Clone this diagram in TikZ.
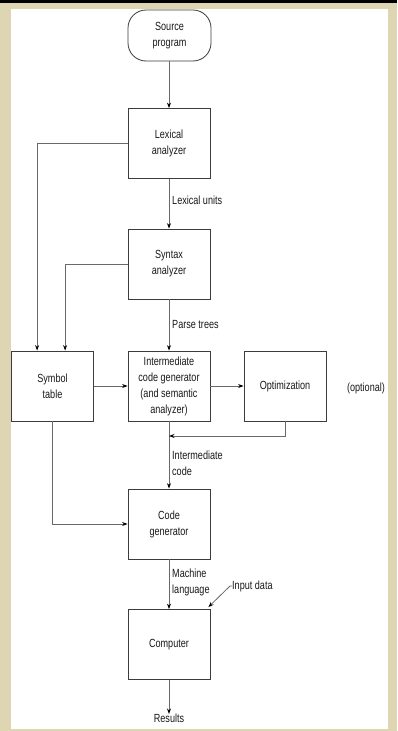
\documentclass[tikz,border=0pt]{standalone}
\usepackage{fontspec}
\setmainfont{Liberation Sans}[FakeStretch=0.77]
\usetikzlibrary{arrows.meta,positioning}
\definecolor{parch}{RGB}{222,213,178}
\definecolor{edge}{RGB}{60,60,60}
\definecolor{wire}{RGB}{105,105,105}
\definecolor{ink}{RGB}{25,25,25}
\tikzset{
  stagebox/.style={draw=edge, line width=0.8pt, fill=white, minimum width=82pt,
    minimum height=70pt, inner sep=0pt, align=center, text=ink,
    font=\fontsize{11.8}{16}\selectfont},
  startbox/.style={stagebox, rounded corners=18pt, minimum width=83pt, minimum height=51pt},
  lbl/.style={inner sep=0pt, align=left, text=ink, font=\fontsize{11.8}{16}\selectfont},
  arr/.style={draw=wire, line width=0.8pt, -{Stealth[length=5.5pt,width=4pt,color=black]}}
}
\begin{document}
\begin{tikzpicture}[x=1pt,y=-1pt]
  % page: parchment surround, black top rule, white sheet
  \fill[parch] (0,0) rectangle (397,731);
  \fill[black] (0,0) rectangle (397,3);
  \fill[white] (11,9) rectangle (388,729);
  \useasboundingbox (0,0) rectangle (397,731);

  % stages
  \node[startbox] (src)  at (169.5,35.5) {Source\\program};
  \node[stagebox] (lex)  at (169,143.5)  {Lexical\\analyzer};
  \node[stagebox] (syn)  at (169,264)    {Syntax\\analyzer};
  \node[stagebox] (sym)  at (52.5,386)   {Symbol\\table};
  \node[stagebox] (icg)  at (169,386)    {Intermediate\\code generator\\(and semantic\\analyzer)};
  \node[stagebox] (opt)  at (285,386)    {Optimization};
  \node[stagebox] (cg)   at (169,524)    {Code\\generator};
  \node[stagebox] (comp) at (169,644.5)  {Computer};

  % labels
  \node[lbl, anchor=west] (lu)  at (172,200) {Lexical units};
  \node[lbl, anchor=west] (pt)  at (172,324) {Parse trees};
  \node[lbl, anchor=west] (ic)  at (172,463) {Intermediate\\code};
  \node[lbl, anchor=west] (ml)  at (172,582) {Machine\\language};
  \node[lbl, anchor=west] (inp) at (232,586) {Input data};
  \node[lbl] (optl) at (366,388) {(optional)};
  \node[lbl, anchor=north] (res) at (169,714) {Results};

  % main flow
  \draw[arr] (src.south -| lex.north) -- (lex.north);
  \draw[arr] (lex.south) -- (syn.north);
  \draw[arr] (syn.south) -- (icg.north);
  \draw[arr] (icg.south) -- (cg.north);
  \draw[arr] (cg.south) -- (comp.north);
  \draw[arr] (comp.south) -- (res.north);

  % symbol table feeds
  \draw[arr] (lex.west) -| ([xshift=26pt]sym.north west);
  \draw[arr] (syn.west) -| ([xshift=54pt]sym.north west);
  \draw[arr] (sym.east) -- (icg.west);
  \draw[arr] (sym.south) |- (cg.west);

  % optional optimization loop
  \draw[arr] (icg.east) -- (opt.west);
  \coordinate (back) at (169,436);
  \draw[arr] (opt.south) |- (back);

  % input data to the computer
  \draw[arr] (inp.west) -- ++(-2,0) -- ([shift={(-2pt,2pt)}]comp.north east);
\end{tikzpicture}
\end{document}
